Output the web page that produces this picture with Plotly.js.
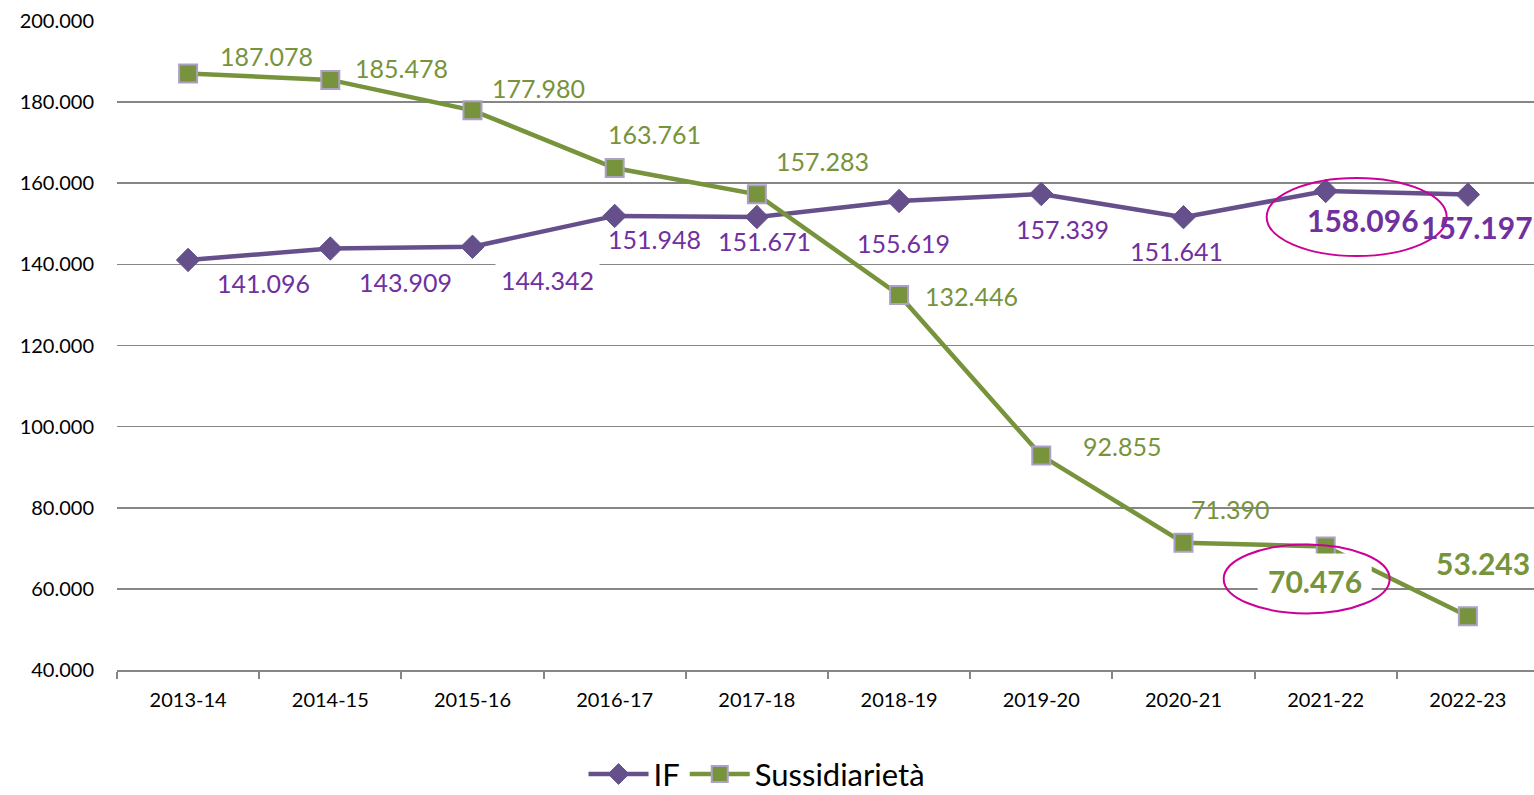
<!DOCTYPE html>
<html><head><meta charset="utf-8">
<script src="https://cdn.plot.ly/plotly-3.0.1.min.js"></script>
<style>html,body{margin:0;padding:0;background:#fff;overflow:hidden}#chart{width:1534px;height:795px}</style>
</head><body><div id="chart"></div>
<script>
// ---- data ----
const years = ['2013-14','2014-15','2015-16','2016-17','2017-18','2018-19','2019-20','2020-21','2021-22','2022-23'];
const ifValues = [141096,143909,144342,151948,151671,155619,157339,151641,158096,157197];
const sussValues = [187078,185478,177980,163761,157283,132446,92855,71390,70476,53243];
const yTickValues = [40000,60000,80000,100000,120000,140000,160000,180000,200000];
const seriesNames = ['IF','Sussidiarietà'];

// ---- label placement (pixel offsets from the point: right / down positive) ----
const ifLabelDx = [75,75,75,40,8,4,21,-7,37,9];
const ifLabelDy = [23,33,33,23,24,42,35,34,29,32];
const sussLabelDx = [78,71,66,40,66,72,81,47,-11,15];
const sussLabelDy = [-17,-12,-22,-34,-33,1,-10,-34,35,-53];
const boldIdx = [8,9];
const ifWhiteBoxIdx = [2];
const highlightIdx = 8;

// ---- styles ----
const FONT = 'Lato, Carlito, "Open Sans", sans-serif';
const GREEN = '#77933C';
const PURPLE_LINE = '#65508C';
const PURPLE_TEXT = '#7030A0';
const LAVENDER = '#ADA0C8';
const GRID = '#868686';
const RING = '#CC0099';

function fmt(n){ return String(n).replace(/\B(?=(\d{3})+(?!\d))/g,'.'); }

const traces = [
  {
    type:'scatter', mode:'lines+markers', name:seriesNames[0],
    x:years, y:ifValues,
    line:{color:PURPLE_LINE, width:4.5},
    marker:{symbol:'diamond', size:18, color:PURPLE_LINE, line:{color:PURPLE_LINE, width:1}},
    hoverinfo:'skip', cliponaxis:false
  },
  {
    type:'scatter', mode:'lines+markers', name:seriesNames[1],
    x:years, y:sussValues,
    line:{color:GREEN, width:4.5},
    marker:{symbol:'square', size:18, color:GREEN, line:{color:LAVENDER, width:2}},
    hoverinfo:'skip', cliponaxis:false
  }
];

const annotations = [];
function addLabels(values, dxs, dys, color, whiteIdx){
  values.forEach((v,i)=>{
    const bold = boldIdx.includes(i);
    const a = {
      x:years[i], y:v, xref:'x', yref:'y', showarrow:false,
      text: bold ? '<b>'+fmt(v)+'</b>' : fmt(v),
      xshift:dxs[i], yshift:-dys[i],
      font:{family:FONT, size: bold ? 30 : 25, color:color}
    };
    if(whiteIdx.includes(i)){ a.bgcolor='#ffffff'; a.borderpad=5; }
    annotations.push(a);
  });
}
addLabels(ifValues, ifLabelDx, ifLabelDy, PURPLE_TEXT, ifWhiteBoxIdx);
addLabels(sussValues, sussLabelDx, sussLabelDy, GREEN, []);

const shapes = [
  // white box behind the highlighted green label
  {type:'rect', layer:'above', xref:'x', yref:'y', xsizemode:'pixel', ysizemode:'pixel',
   xanchor:years[highlightIdx], yanchor:sussValues[highlightIdx],
   x0:-68, x1:46, y0:-7, y1:-62, fillcolor:'#ffffff', line:{width:0}},
  // ring around highlighted IF value
  {type:'circle', layer:'above', xref:'x', yref:'y', xsizemode:'pixel', ysizemode:'pixel',
   xanchor:years[highlightIdx], yanchor:ifValues[highlightIdx],
   x0:-59, x1:121, y0:13, y1:-65, line:{color:RING, width:2}, fillcolor:'rgba(0,0,0,0)'},
  // ring around highlighted Sussidiarietà value
  {type:'circle', layer:'above', xref:'x', yref:'y', xsizemode:'pixel', ysizemode:'pixel',
   xanchor:years[highlightIdx], yanchor:sussValues[highlightIdx],
   x0:-102, x1:64, y0:2, y1:-67, line:{color:RING, width:2}, fillcolor:'rgba(0,0,0,0)'}
];

const layout = {
  width:1534, height:795,
  margin:{l:117, r:0, t:21, b:125, pad:0},
  paper_bgcolor:'#ffffff', plot_bgcolor:'#ffffff',
  separators:',.',
  font:{family:FONT, color:'#000000'},
  showlegend:true,
  legend:{orientation:'h', xref:'container', yref:'container',
          x:0.4935, xanchor:'center', y:0.026, yanchor:'middle',
          itemwidth:60, tracegroupgap:0,
          font:{family:FONT, size:31, color:'#000000'}, bgcolor:'rgba(0,0,0,0)'},
  xaxis:{
    type:'category', range:[-0.5, 9.465], fixedrange:true,
    showgrid:false, zeroline:false,
    showline:true, linecolor:GRID, linewidth:2,
    ticks:'outside', tickson:'boundaries', ticklen:7, tickwidth:2, tickcolor:GRID,
    ticklabelstandoff:11,
    tickfont:{family:FONT, size:20, color:'#000000'}
  },
  yaxis:{
    range:[40000,200000], tickmode:'array', tickvals:yTickValues,
    ticktext:yTickValues.map(fmt), fixedrange:true,
    showgrid:true, gridcolor:GRID, gridwidth:1.6,
    zeroline:false, showline:false, ticks:'', ticklabelstandoff:22,
    tickfont:{family:FONT, size:20, color:'#000000'}
  },
  annotations:annotations,
  shapes:shapes,
  hovermode:false
};

Plotly.newPlot('chart', traces, layout, {displayModeBar:false, staticPlot:true});
</script>
</body></html>
